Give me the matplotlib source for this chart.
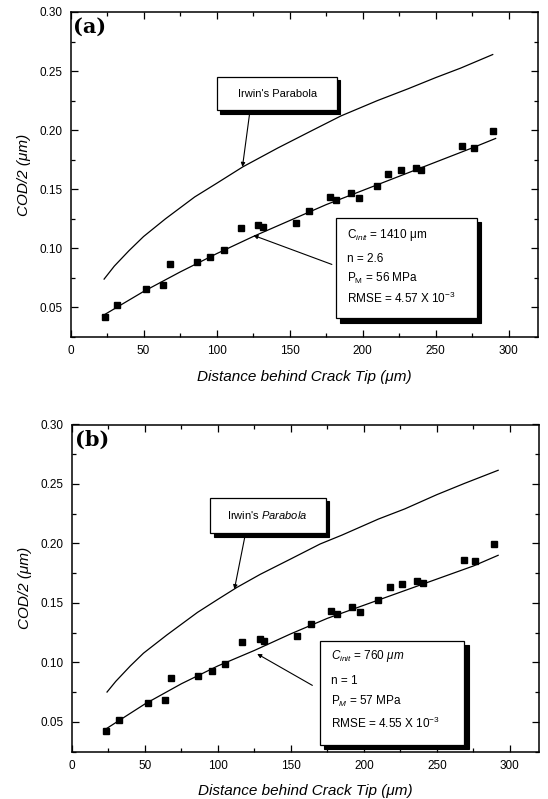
import matplotlib
matplotlib.use("Agg")
import matplotlib.pyplot as plt
from matplotlib.patches import Rectangle
from matplotlib.ticker import MultipleLocator, FormatStrFormatter

plt.rcParams['font.family'] = ['Liberation Sans', 'DejaVu Sans']
plt.rcParams['mathtext.fontset'] = 'custom'
plt.rcParams['mathtext.rm'] = 'Liberation Sans'
plt.rcParams['mathtext.it'] = 'Liberation Sans:italic'
plt.rcParams['mathtext.bf'] = 'Liberation Sans:bold'

# ---- data ----
dist = [23.3, 32, 51.8, 63.5, 68, 86.3, 95.7, 105, 116.7, 128.5, 131.7, 154.3, 163.5,
        177.4, 181.5, 191.8, 197.5, 210, 217.6, 226, 236.3, 240.2, 268.3, 276.2, 289.3]
cod = [0.042, 0.0517, 0.0658, 0.0686, 0.0864, 0.0887, 0.0924, 0.0989, 0.1172, 0.120,
       0.118, 0.1218, 0.132, 0.1435, 0.1407, 0.1469, 0.1424, 0.1525, 0.1633, 0.1661,
       0.1684, 0.1667, 0.1864, 0.1853, 0.1994]

fit_a_x = [22, 50, 75, 100, 125, 150, 175, 200, 225, 250, 275, 291]
fit_a_y = [0.043, 0.0635, 0.080, 0.0955, 0.110, 0.1235, 0.137, 0.149, 0.161, 0.173, 0.185, 0.193]
irwin_a_x = [23, 30, 40, 50, 65, 85, 100, 118, 142, 165, 185, 210, 231, 250, 267, 289]
irwin_a_y = [0.074, 0.085, 0.098, 0.110, 0.125, 0.1435, 0.155, 0.169, 0.185, 0.1995,
             0.212, 0.225, 0.235, 0.2445, 0.2525, 0.264]

fit_b_x = [22, 50, 75, 100, 125, 150, 175, 200, 225, 250, 275, 292]
fit_b_y = [0.043, 0.065, 0.082, 0.097, 0.110, 0.124, 0.137, 0.148, 0.159, 0.170, 0.181, 0.190]
irwin_b_x = [24, 30, 40, 49, 65, 86, 100, 113, 129, 150, 170, 185, 210, 228, 250, 269, 292]
irwin_b_y = [0.075, 0.084, 0.097, 0.1077, 0.123, 0.142, 0.153, 0.163, 0.174, 0.187,
             0.1995, 0.207, 0.2205, 0.229, 0.241, 0.2505, 0.2615]

panel_labels = ['(a)', '(b)']
xlabel = 'Distance behind Crack Tip (\u03bcm)'
ylabel = 'COD/2 (\u03bcm)'
irwin_label = "Irwin's Parabola"
params_a = [r'C$_{\it init}$ = 1410 $\mathrm{\mu m}$', 'n = 2.6', r'P$_{\rm M}$ = 56 MPa',
            r'RMSE = 4.57 X 10$^{-3}$']
params_b = [r'$C_{init}$ = 760 $\mu m$', 'n = 1', r'P$_{M}$ = 57 MPa',
            r'RMSE = 4.55 X 10$^{-3}$']

W, H = 548, 799
fig = plt.figure(figsize=(W / 100, H / 100), dpi=100)


def px_axes(l, r, t, b):
    return fig.add_axes([l / W, 1 - b / H, (r - l) / W, (b - t) / H])


def shadow_box(ax, x0, x1, y0, y1, sx, sy):
    ax.add_patch(Rectangle((x0 + sx, y0 - sy), x1 - x0, y1 - y0, facecolor='black',
                           edgecolor='black', lw=0.8, zorder=5))
    ax.add_patch(Rectangle((x0, y0), x1 - x0, y1 - y0, facecolor='white',
                           edgecolor='black', lw=0.9, zorder=6))


def style_axes(ax, label):
    ax.set_xlim(0, 320)
    ax.set_ylim(0.025, 0.30)
    ax.xaxis.set_major_locator(MultipleLocator(50))
    ax.xaxis.set_minor_locator(MultipleLocator(25))
    ax.yaxis.set_major_locator(MultipleLocator(0.05))
    ax.yaxis.set_minor_locator(MultipleLocator(0.025))
    ax.yaxis.set_major_formatter(FormatStrFormatter('%.2f'))
    ax.tick_params(which='both', direction='in', top=True, right=True, labelsize=8.5,
                   width=0.9)
    ax.tick_params(which='major', length=5, pad=6)
    ax.tick_params(which='minor', length=3)
    for s in ax.spines.values():
        s.set_linewidth(1.1)
    ax.set_xlabel(xlabel, fontsize=11, style='italic', labelpad=9)
    ax.set_ylabel(ylabel, fontsize=11, style='italic', labelpad=6)
    ax.text(0.006, 0.985, label, transform=ax.transAxes, ha='left', va='top',
            fontsize=15, fontweight='bold', family='DejaVu Serif')


arrow_kw = dict(arrowstyle='-|>', lw=0.8, color='black', mutation_scale=6,
                shrinkA=0, shrinkB=0)

# ---- panel (a) ----
ax1 = px_axes(70.5, 538, 12, 337)
style_axes(ax1, panel_labels[0])
ax1.plot(irwin_a_x, irwin_a_y, color='black', lw=0.9)
ax1.plot(fit_a_x, fit_a_y, color='black', lw=0.9)
ax1.plot(dist, cod, ls='none', marker='s', ms=4.8, color='black')
shadow_box(ax1, 100.3, 182.5, 0.2169, 0.2449, 2.2, 0.0028)
ax1.text(141.4, 0.2309, irwin_label, ha='center', va='center', fontsize=8, zorder=7)
ax1.annotate('', xy=(117.7, 0.1689), xytext=(122.9, 0.2169), arrowprops=arrow_kw)
shadow_box(ax1, 181.8, 278.4, 0.0407, 0.1254, 2.8, 0.0035)
for txt, yy in zip(params_a, [0.111, 0.0907, 0.0746, 0.0576]):
    ax1.text(189.4, yy, txt, ha='left', va='center', fontsize=8.5, zorder=7)
ax1.annotate('', xy=(125.2, 0.111), xytext=(178.9, 0.0864), arrowprops=arrow_kw)

# ---- panel (b) ----
ax2 = px_axes(72, 539, 424.5, 751.5)
style_axes(ax2, panel_labels[1])
ax2.plot(irwin_b_x, irwin_b_y, color='black', lw=0.9)
ax2.plot(fit_b_x, fit_b_y, color='black', lw=0.9)
ax2.plot(dist, cod, ls='none', marker='s', ms=4.8, color='black')
shadow_box(ax2, 94.8, 173.9, 0.2085, 0.2385, 2.2, 0.0028)
ax2.text(134.0, 0.2235, "Irwin's $\\it{Parabola}$", ha='center', va='center',
         fontsize=8, zorder=7)
ax2.annotate('', xy=(111.3, 0.1615), xytext=(118.9, 0.2085), arrowprops=arrow_kw)
shadow_box(ax2, 169.8, 268.7, 0.0308, 0.118, 3.2, 0.0035)
for txt, yy in zip(params_b, [0.1051, 0.0846, 0.0675, 0.0487]):
    ax2.text(177.3, yy, txt, ha='left', va='center', fontsize=8.5, zorder=7)
ax2.annotate('', xy=(126.9, 0.1071), xytext=(164.7, 0.0806), arrowprops=arrow_kw)

fig.savefig('out.png', dpi=100)
